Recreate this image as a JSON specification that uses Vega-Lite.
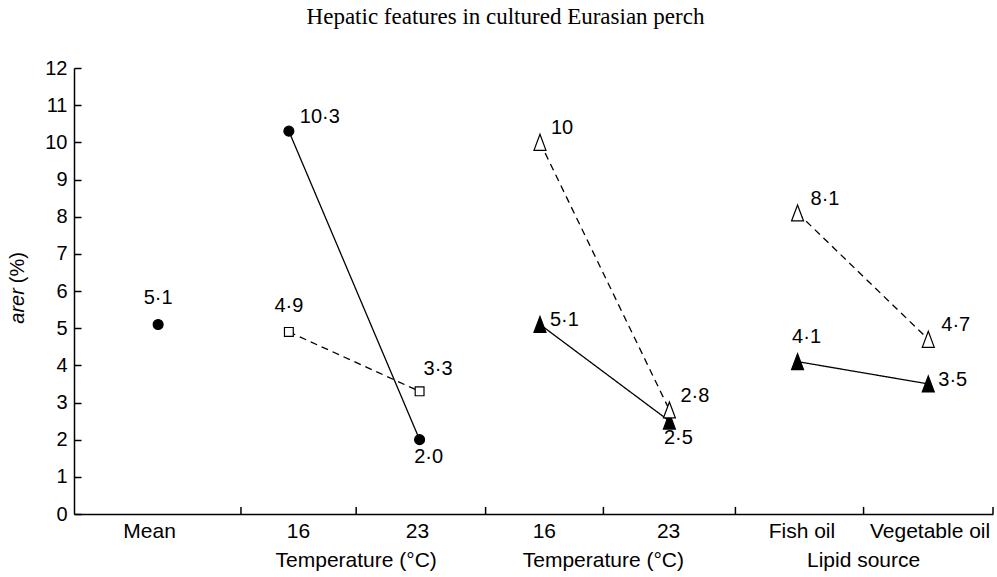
{
  "$schema": "https://vega.github.io/schema/vega-lite/v6.json",
  "width": 919,
  "height": 446,
  "autosize": {"type": "none"},
  "padding": {"left": 74, "top": 68, "right": 4, "bottom": 63},
  "background": "white",
  "title": {
    "text": "Hepatic features in cultured Eurasian perch",
    "font": "Liberation Serif",
    "fontSize": 23,
    "fontWeight": "normal",
    "color": "black",
    "anchor": "middle",
    "dx": -28,
    "offset": 29
  },
  "datasets": {
    "points": [
      {"series": "Mean", "x": 0.65, "value": 5.1, "label": "5·1"},
      {"series": "A", "x": 1.66, "value": 10.3, "label": "10·3"},
      {"series": "A", "x": 2.67, "value": 2.0, "label": "2·0"},
      {"series": "B", "x": 1.66, "value": 4.9, "label": "4·9"},
      {"series": "B", "x": 2.67, "value": 3.3, "label": "3·3"},
      {"series": "C", "x": 3.6, "value": 5.1, "label": "5·1"},
      {"series": "C", "x": 4.6, "value": 2.5, "label": "2·5"},
      {"series": "D", "x": 3.6, "value": 10, "label": "10"},
      {"series": "D", "x": 4.6, "value": 2.8, "label": "2·8"},
      {"series": "E", "x": 5.59, "value": 4.1, "label": "4·1"},
      {"series": "E", "x": 6.6, "value": 3.5, "label": "3·5"},
      {"series": "F", "x": 5.59, "value": 8.1, "label": "8·1"},
      {"series": "F", "x": 6.6, "value": 4.7, "label": "4·7"}
    ],
    "groups": [
      {"label": "Temperature (°C)", "x": 2.18},
      {"label": "Temperature (°C)", "x": 4.09},
      {"label": "Lipid source", "x": 6.1}
    ],
    "separators": [
      {"x": 1.29}, {"x": 2.18}, {"x": 3.18}, {"x": 4.09}, {"x": 5.11}, {"x": 6.1}, {"x": 7.1}
    ]
  },
  "layer": [
    {
      "data": {"name": "points"},
      "transform": [{"filter": "datum.series != 'Mean'"}],
      "mark": {"type": "line", "color": "black", "strokeWidth": 1.3},
      "encoding": {
        "x": {
          "field": "x", "type": "quantitative",
          "scale": {"domain": [0, 7.1], "nice": false, "zero": false},
          "axis": {
            "title": null,
            "values": [0.58, 1.73, 2.65, 3.63, 4.59, 5.62, 6.61],
            "tickCount": 30,
            "labelExpr": "datum.value < 1 ? 'Mean' : datum.value < 2.2 ? '16' : datum.value < 3.2 ? '23' : datum.value < 4.1 ? '16' : datum.value < 5.1 ? '23' : datum.value < 6.1 ? 'Fish oil' : 'Vegetable oil'",
            "ticks": false,
            "grid": false,
            "domainColor": "black",
            "domainWidth": 1.5,
            "labelFont": "Liberation Sans",
            "labelFontSize": 21,
            "labelColor": "black",
            "labelPadding": 6,
            "labelFlush": false,
            "labelOverlap": false
          }
        },
        "y": {
          "field": "value", "type": "quantitative",
          "scale": {"domain": [0, 12], "nice": false},
          "axis": {
            "title": null,
            "values": [0, 1, 2, 3, 4, 5, 6, 7, 8, 9, 10, 11, 12],
            "tickCount": 20,
            "format": "d",
            "grid": false,
            "tickSize": -7,
            "tickWidth": 1.5,
            "tickColor": "black",
            "domainColor": "black",
            "domainWidth": 1.5,
            "labelFont": "Liberation Sans",
            "labelFontSize": 20,
            "labelColor": "black",
            "labelPadding": 14,
            "labelFlush": false,
            "labelOverlap": false
          }
        },
        "detail": {"field": "series"},
        "strokeDash": {
          "field": "series", "type": "nominal",
          "scale": {"domain": ["A", "B", "C", "D", "E", "F"], "range": [[1, 0], [7, 5], [1, 0], [7, 5], [1, 0], [7, 5]]},
          "legend": null
        }
      }
    },
    {
      "data": {"name": "separators"},
      "mark": {"type": "rule", "color": "black", "strokeWidth": 1.5},
      "encoding": {
        "x": {"field": "x", "type": "quantitative"},
        "y": {"datum": 0},
        "y2": {"datum": 0.19}
      }
    },
    {
      "data": {"name": "points"},
      "mark": {"type": "point", "filled": true, "stroke": "black", "strokeWidth": 1.2, "size": 256, "opacity": 1},
      "encoding": {
        "x": {"field": "x", "type": "quantitative"},
        "y": {"field": "value", "type": "quantitative"},
        "shape": {
          "field": "series", "type": "nominal",
          "scale": {
            "domain": ["Mean", "A", "B", "C", "D", "E", "F"],
            "range": [
              "M-0.62,0A0.62,0.62 0 1,0 0.62,0A0.62,0.62 0 1,0 -0.62,0Z",
              "M-0.62,0A0.62,0.62 0 1,0 0.62,0A0.62,0.62 0 1,0 -0.62,0Z",
              "M-0.55,-0.55H0.55V0.55H-0.55Z",
              "M0,-1L0.75,1L-0.75,1Z",
              "M0,-1L0.75,1L-0.75,1Z",
              "M0,-1L0.75,1L-0.75,1Z",
              "M0,-1L0.75,1L-0.75,1Z"
            ]
          },
          "legend": null
        },
        "fill": {
          "field": "series", "type": "nominal",
          "scale": {
            "domain": ["Mean", "A", "B", "C", "D", "E", "F"],
            "range": ["black", "black", "white", "black", "white", "black", "white"]
          },
          "legend": null
        }
      }
    },
    {
      "data": {"name": "points"},
      "transform": [{"filter": "datum.series == 'Mean' || (datum.series == 'B' && datum.x < 2)"}],
      "mark": {"type": "text", "font": "Liberation Sans", "fontSize": 20, "color": "black", "align": "center", "baseline": "alphabetic", "dy": -20},
      "encoding": {"x": {"field": "x", "type": "quantitative"}, "y": {"field": "value", "type": "quantitative"}, "text": {"field": "label"}}
    },
    {
      "data": {"name": "points"},
      "transform": [{"filter": "datum.series == 'E' && datum.x < 6"}],
      "mark": {"type": "text", "font": "Liberation Sans", "fontSize": 20, "color": "black", "align": "center", "baseline": "alphabetic", "dx": 9, "dy": -19},
      "encoding": {"x": {"field": "x", "type": "quantitative"}, "y": {"field": "value", "type": "quantitative"}, "text": {"field": "label"}}
    },
    {
      "data": {"name": "points"},
      "transform": [{"filter": "(datum.series == 'A' && datum.x < 2) || datum.series == 'D'"}],
      "mark": {"type": "text", "font": "Liberation Sans", "fontSize": 20, "color": "black", "align": "left", "baseline": "alphabetic", "dx": 11, "dy": -8},
      "encoding": {"x": {"field": "x", "type": "quantitative"}, "y": {"field": "value", "type": "quantitative"}, "text": {"field": "label"}}
    },
    {
      "data": {"name": "points"},
      "transform": [{"filter": "datum.series == 'B' && datum.x > 2"}],
      "mark": {"type": "text", "font": "Liberation Sans", "fontSize": 20, "color": "black", "align": "left", "baseline": "alphabetic", "dx": 4, "dy": -16},
      "encoding": {"x": {"field": "x", "type": "quantitative"}, "y": {"field": "value", "type": "quantitative"}, "text": {"field": "label"}}
    },
    {
      "data": {"name": "points"},
      "transform": [{"filter": "datum.series == 'F'"}],
      "mark": {"type": "text", "font": "Liberation Sans", "fontSize": 20, "color": "black", "align": "left", "baseline": "alphabetic", "dx": 13, "dy": -8},
      "encoding": {"x": {"field": "x", "type": "quantitative"}, "y": {"field": "value", "type": "quantitative"}, "text": {"field": "label"}}
    },
    {
      "data": {"name": "points"},
      "transform": [{"filter": "(datum.series == 'C' && datum.x < 4) || (datum.series == 'E' && datum.x > 6)"}],
      "mark": {"type": "text", "font": "Liberation Sans", "fontSize": 20, "color": "black", "align": "left", "baseline": "alphabetic", "dx": 10, "dy": 2},
      "encoding": {"x": {"field": "x", "type": "quantitative"}, "y": {"field": "value", "type": "quantitative"}, "text": {"field": "label"}}
    },
    {
      "data": {"name": "points"},
      "transform": [{"filter": "(datum.series == 'A' && datum.x > 2) || (datum.series == 'C' && datum.x > 4)"}],
      "mark": {"type": "text", "font": "Liberation Sans", "fontSize": 20, "color": "black", "align": "center", "baseline": "alphabetic", "dx": 9, "dy": 23},
      "encoding": {"x": {"field": "x", "type": "quantitative"}, "y": {"field": "value", "type": "quantitative"}, "text": {"field": "label"}}
    },
    {
      "data": {"name": "groups"},
      "mark": {"type": "text", "font": "Liberation Sans", "fontSize": 21, "color": "black", "align": "center", "baseline": "alphabetic", "dy": 53},
      "encoding": {"x": {"field": "x", "type": "quantitative"}, "y": {"datum": 0}, "text": {"field": "label"}}
    },
    {
      "data": {"values": [{"part": "arer"}]},
      "mark": {"type": "text", "font": "Liberation Sans", "fontSize": 20, "fontStyle": "italic", "color": "black", "angle": 270, "align": "right", "baseline": "middle", "dx": -2, "dy": -56},
      "encoding": {"x": {"datum": 0}, "y": {"datum": 6.13}, "text": {"field": "part"}}
    },
    {
      "data": {"values": [{"part": "(%)"}]},
      "mark": {"type": "text", "font": "Liberation Sans", "fontSize": 20, "color": "black", "angle": 270, "align": "left", "baseline": "middle", "dx": 3, "dy": -56},
      "encoding": {"x": {"datum": 0}, "y": {"datum": 6.13}, "text": {"field": "part"}}
    }
  ],
  "config": {"view": {"stroke": null}}
}
